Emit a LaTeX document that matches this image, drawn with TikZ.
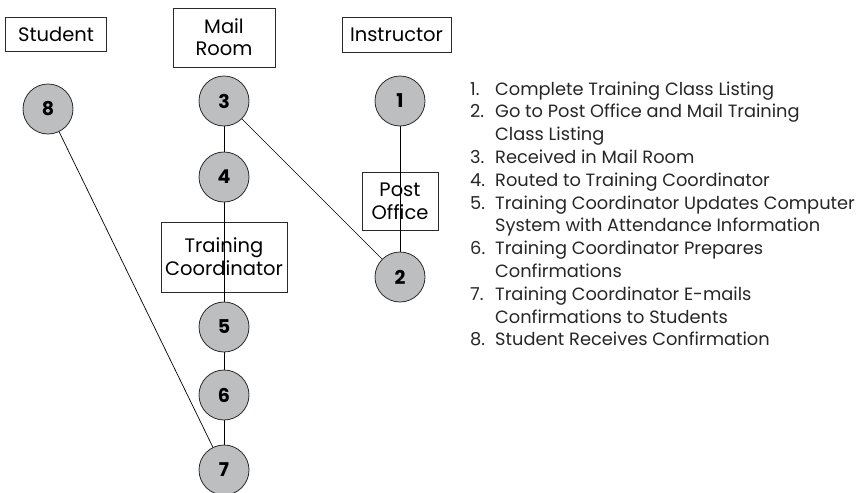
\documentclass[tikz,border=0pt]{standalone}
\usepackage{fontspec}
\setmainfont{Poppins}
\definecolor{circfill}{HTML}{BDBEC0}
\definecolor{circline}{HTML}{2A2A2A}
\begin{document}
\begin{tikzpicture}[x=1pt,y=-1pt,
  lane/.style={draw=circline,line width=0.8pt,inner sep=0pt,align=center,font=\fontsize{19.5}{22}\selectfont},
  stepc/.style={circle,draw=circline,line width=0.8pt,fill=circfill,minimum size=50pt,inner sep=0pt,font=\fontsize{19}{21}\selectfont\bfseries},
  conn/.style={draw=black,line width=0.7pt},
  legtxt/.style={anchor=base west,inner sep=0pt,font=\fontsize{17.8}{20}\selectfont,text=black!85}]
\useasboundingbox (0,0) rectangle (863,493);
% lanes
\node[lane,minimum width=101pt,minimum height=34.5pt] (student) at (56,34.5) {Student};
\node[lane,minimum width=102pt,minimum height=59pt] (mailroom) at (224,37.5) {Mail\\Room};
\node[lane,minimum width=109pt,minimum height=35pt] (instructor) at (396.5,34.5) {Instructor};
% connector end points
\coordinate (c8) at (48,109);
\coordinate (c3) at (224,101);
\coordinate (c1) at (400,101);
\coordinate (c4) at (224,177);
\coordinate (c2) at (400,277);
\coordinate (c5) at (224,327);
\coordinate (c6) at (224,395);
\coordinate (c7) at (224,470);
\node[draw=circline,line width=0.8pt,fill=white,minimum width=76pt,minimum height=58pt,inner sep=0pt] (postbox) at (400,201) {};
\node[draw=circline,line width=0.8pt,fill=white,minimum width=126pt,minimum height=70pt,inner sep=0pt] (tcbox) at (224,257) {};
\draw[conn] (c3) -- (c4);
\draw[conn] (c4) -- (c5);
\draw[conn] (c5) -- (c6);
\draw[conn] (c6) -- (c7);
\draw[conn] (c3) -- (c2);
\draw[conn] (c1) -- (c2);
\draw[conn] (c8) -- (c7);
\node[align=center,inner sep=0pt,font=\fontsize{19.5}{23}\selectfont] (posttxt) at (postbox.center) {Post\\Office};
\node[align=center,inner sep=0pt,font=\fontsize{19.5}{23}\selectfont] (tctxt) at (tcbox.center) {Training\\Coordinator};
% steps
\node[stepc] (n8) at (c8) {8};
\node[stepc] (n3) at (c3) {3};
\node[stepc] (n1) at (c1) {1};
\node[stepc] (n4) at (c4) {4};
\node[stepc] (n2) at (c2) {2};
\node[stepc] (n5) at (c5) {5};
\node[stepc] (n6) at (c6) {6};
\node[stepc] (n7) at (c7) {7};
% legend
\foreach \i/\num/\txt in {0/1./Complete Training Class Listing,
  1/2./Go to Post Office and Mail Training,
  2//Class Listing,
  3/3./Received in Mail Room,
  4/4./Routed to Training Coordinator,
  5/5./Training Coordinator Updates Computer,
  6//System with Attendance Information,
  7/6./Training Coordinator Prepares,
  8//Confirmations,
  9/7./Training Coordinator E-mails,
  10//Confirmations to Students,
  11/8./Student Receives Confirmation}{
  \node[legtxt] (ln\i) at (470,95+22.8*\i) {\num};
  \node[legtxt] (lt\i) at (495,95+22.8*\i) {\txt};
}
\end{tikzpicture}
\end{document}
